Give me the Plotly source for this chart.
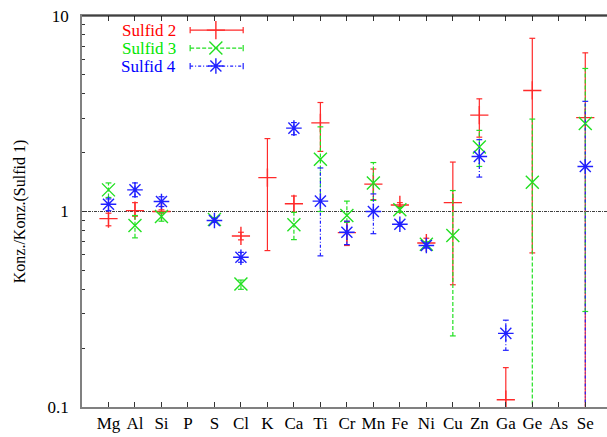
import plotly.graph_objects as go

elements = ["Mg", "Al", "Si", "P", "S", "Cl", "K", "Ca", "Ti", "Cr", "Mn", "Fe", "Ni", "Cu", "Zn", "Ga", "Ge", "As", "Se"]

# Sulfid 2 (red)
s2_val = [0.92, 1.01, 1.0, None, None, 0.75, 1.49, 1.095, 2.84, 0.78, 1.38, 1.08, 0.69, 1.11, 3.11, 0.109, 4.16, None, 3.02]
s2_lo  = [0.845, 0.946, 0.98, None, None, 0.716, 0.631, 0.99, 2.03, 0.67, 1.15, 1.06, 0.66, 0.422, 2.40, 0.01, 0.614, None, 0.01]
s2_hi  = [0.98, 1.11, 1.02, None, None, 0.783, 2.36, 1.2, 3.61, 0.89, 1.65, 1.11, 0.73, 1.79, 3.77, 0.159, 7.69, None, 6.48]

# Sulfid 3 (green)
s3_val = [1.29, 0.848, 0.943, None, 0.91, 0.426, None, 0.855, 1.85, 0.954, 1.40, 1.02, 0.68, 0.753, 2.14, None, 1.41, None, 2.82]
s3_lo  = [1.18, 0.733, 0.892, None, 0.89, 0.40, None, 0.718, 1.0, 0.88, 1.14, 0.99, 0.66, 0.231, 1.70, None, 0.01, None, 0.308]
s3_hi  = [1.40, 0.954, 0.99, None, 0.93, 0.446, None, 0.99, 2.71, 1.13, 1.78, 1.05, 0.70, 1.28, 2.6, None, 2.97, None, 5.39]

# Sulfid 4 (blue)
s4_val = [1.09, 1.29, 1.125, None, 0.90, 0.583, None, 2.67, 1.13, 0.783, 1.0, 0.861, 0.67, None, 1.91, 0.238, None, None, 1.70]
s4_lo  = [1.01, 1.19, 1.06, None, 0.88, 0.55, None, 2.47, 0.593, 0.677, 0.77, 0.84, 0.65, None, 1.50, 0.195, None, None, 0.01]
s4_hi  = [1.16, 1.40, 1.19, None, 0.92, 0.618, None, 2.85, 1.67, 0.892, 1.23, 0.88, 0.69, None, 2.33, 0.278, None, None, 3.66]

y_ticks = [0.1, 1, 10]
y_ticktext = ["0.1", "1", "10"]
y_minor = [0.2, 0.3, 0.4, 0.5, 0.6, 0.7, 0.8, 0.9, 2, 3, 4, 5, 6, 7, 8, 9]

series = [
    ("Sulfid 2", s2_val, s2_lo, s2_hi, "#ff2a2a", "solid", "cross-thin", "#ff0000"),
    ("Sulfid 3", s3_val, s3_lo, s3_hi, "#22e022", "4px,2px", "x-thin", "#00e600"),
    ("Sulfid 4", s4_val, s4_lo, s4_hi, "#2020ff", "3px,2px,1px,2px", "asterisk", "#0000ff"),
]

FONT = "Times New Roman"
CAP = 0.11

fig = go.Figure()
xs = list(range(1, len(elements) + 1))

for name, val, lo, hi, col, dash, sym, tcol in series:
    ex, ey, cx, cy, mx, my = [], [], [], [], [], []
    for x, v, l, h in zip(xs, val, lo, hi):
        if v is None:
            continue
        ex += [x, x, None]
        ey += [l, h, None]
        for b in (l, h):
            cx += [x - CAP, x + CAP, None]
            cy += [b, b, None]
        mx.append(x)
        my.append(v)
    fig.add_trace(go.Scatter(x=ex, y=ey, mode="lines", line=dict(color=col, width=1.2, dash=dash),
                             showlegend=False, hoverinfo="skip"))
    fig.add_trace(go.Scatter(x=cx, y=cy, mode="lines", line=dict(color=col, width=1.2),
                             showlegend=False, hoverinfo="skip"))
    fig.add_trace(go.Scatter(x=mx, y=my, mode="markers", name=name,
                             marker=dict(symbol=sym, size=13, line=dict(color=col, width=1.4), color=col),
                             showlegend=False))

# manual legend on an overlay axis (0..1)
leg_rows = [0.964, 0.918, 0.872]
lx0, lxc, lx1 = 0.206, 0.255, 0.307
for (name, val, lo, hi, col, dash, sym, tcol), ly in zip(series, leg_rows):
    fig.add_trace(go.Scatter(x=[lx0, lx1], y=[ly, ly], xaxis="x2", yaxis="y2", mode="lines",
                             line=dict(color=col, width=1.2, dash=dash), showlegend=False, hoverinfo="skip"))
    fig.add_trace(go.Scatter(x=[lx0, lx0, None, lx1, lx1], y=[ly - 0.008, ly + 0.008, None, ly - 0.008, ly + 0.008],
                             xaxis="x2", yaxis="y2", mode="lines",
                             line=dict(color=col, width=1.2), showlegend=False, hoverinfo="skip"))
    fig.add_trace(go.Scatter(x=[lxc], y=[ly], xaxis="x2", yaxis="y2", mode="markers",
                             marker=dict(symbol=sym, size=13, line=dict(color=col, width=1.4), color=col),
                             showlegend=False, hoverinfo="skip"))
    fig.add_annotation(x=0.183, y=ly, xref="x2", yref="y2", text=name, showarrow=False,
                       xanchor="right", yanchor="middle", font=dict(family=FONT, size=17, color=tcol))

fig.add_shape(type="line", xref="paper", yref="y", x0=0, x1=1, y0=1, y1=1,
              line=dict(color="#404040", width=1, dash="3px,1px,1px,1px"), layer="below")
fig.add_shape(type="line", xref="paper", yref="paper", x0=0, x1=1, y0=1, y1=1,
              line=dict(color="#000000", width=1))

fig.update_layout(
    width=607, height=437,
    margin=dict(l=82, r=0, t=16, b=30),
    paper_bgcolor="white", plot_bgcolor="white",
    font=dict(family=FONT, size=15, color="black"),
    showlegend=False,
    xaxis=dict(range=[0, 19.82], tickvals=xs, ticktext=elements, showgrid=False, zeroline=False,
               showline=True, linecolor="#808080", linewidth=1.5, mirror="ticks",
               ticks="inside", ticklen=5, tickcolor="#333333", tickfont=dict(family=FONT, size=17)),
    yaxis=dict(type="log", range=[-1, 1], tickvals=y_ticks, ticktext=y_ticktext, showgrid=False,
               zeroline=False, showline=True, linecolor="#808080", linewidth=1.5,
               ticks="inside", ticklen=5, tickcolor="#333333", tickfont=dict(family=FONT, size=17),
               ticklabelstandoff=8,
               minor=dict(tickvals=y_minor, ticks="inside", ticklen=3, tickcolor="#333333"),
               title=dict(text="Konz./Konz.(Sulfid 1)", font=dict(family=FONT, size=16), standoff=18)),
    xaxis2=dict(range=[0, 1], overlaying="x", visible=False, fixedrange=True),
    yaxis2=dict(range=[0, 1], overlaying="y", visible=False, fixedrange=True),
)

fig.write_html("out.html", config={"displayModeBar": False},
               post_script="document.body.style.margin='0';document.body.style.overflow='hidden';")
